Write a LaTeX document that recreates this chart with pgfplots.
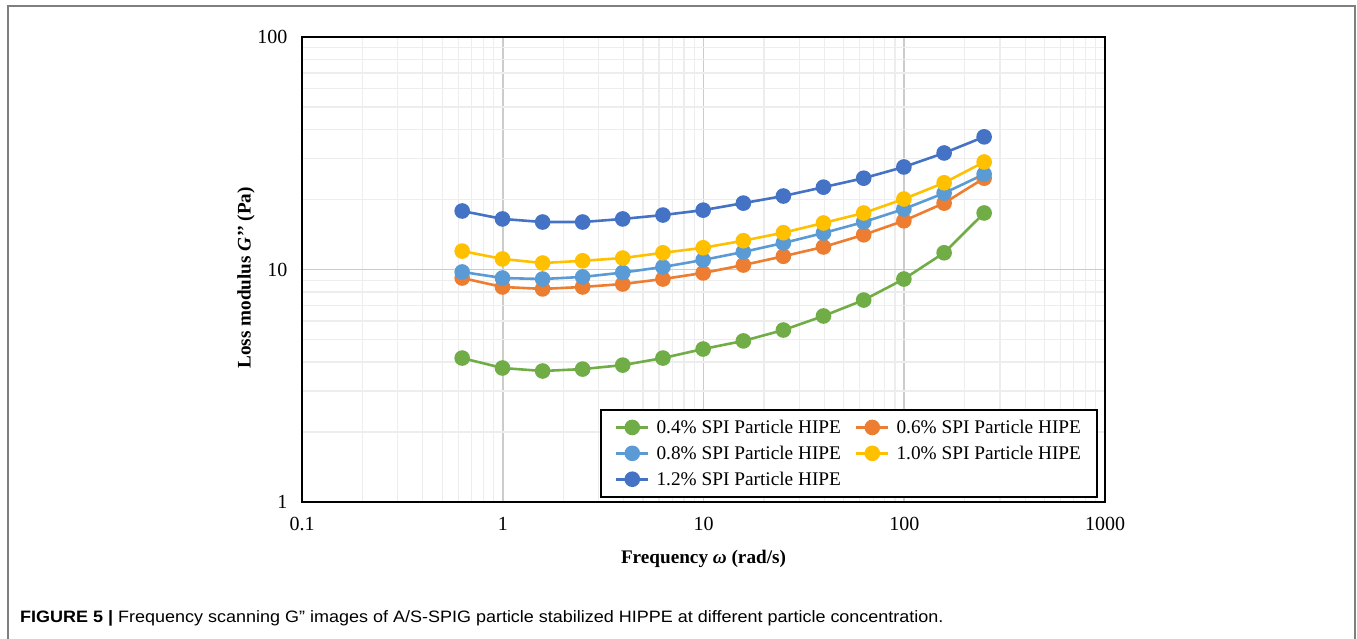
\documentclass[border=0pt]{standalone}
\usepackage{fontspec}
\setmainfont{Liberation Serif}
\newfontfamily\capfont{Liberation Sans}
\usepackage{pgfplots}
\pgfplotsset{compat=1.18}

\definecolor{cgreen}{HTML}{70AD47}
\definecolor{corange}{HTML}{ED7D31}
\definecolor{clblue}{HTML}{5B9BD5}
\definecolor{cyellow}{HTML}{FFC000}
\definecolor{cblue}{HTML}{4472C4}
\definecolor{framegray}{HTML}{7F7F7F}

% omega (rad/s) and loss modulus G'' (Pa)
\pgfplotstableread{
w      g04   g06   g08   g10   g12
0.628  4.16  9.19  9.76  12.0  17.85
0.997  3.77  8.41  9.19  11.1  16.5
1.58   3.66  8.25  9.10  10.66 16.0
2.50   3.73  8.41  9.29  10.9  16.0
3.96   3.88  8.66  9.70  11.2  16.5
6.28   4.16  9.10  10.25 11.8  17.15
9.96   4.55  9.66  10.99 12.4  18.0
15.8   4.93  10.45 11.9  13.3  19.3
25.0   5.49  11.4  13.0  14.4  20.7
39.6   6.31  12.5  14.35 15.85 22.6
62.8   7.39  14.1  16.0  17.5  24.7
99.6   9.10  16.2  18.2  20.1  27.6
158    11.8  19.3  21.3  23.6  31.7
250    17.5  24.7  25.7  29.0  37.2
}\gdata

\begin{document}
\begin{tikzpicture}
\path[use as bounding box] (0pt,0pt) rectangle (1357pt,639pt);
% figure frame
\draw[framegray, line width=2pt] (7.5pt,-2pt) -- (7.5pt,633pt) -- (1355pt,633pt) -- (1355pt,-2pt);

\begin{axis}[
  at={(302pt,137pt)}, anchor=south west,
  scale only axis, width=803pt, height=465pt,
  xmode=log, ymode=log,
  xmin=0.1, xmax=1000, ymin=1, ymax=100,
  axis line style={line width=2.2pt, black},
  xtick={0.1,1,10,100,1000}, xticklabels={0.1,1,10,100,1000},
  ytick={1,10,100}, yticklabels={1,10,100},
  minor xtick={0.2,0.3,0.4,0.5,0.6,0.7,0.8,0.9,2,3,4,5,6,7,8,9,20,30,40,50,60,70,80,90,200,300,400,500,600,700,800,900},
  minor ytick={2,3,4,5,6,7,8,9,20,30,40,50,60,70,80,90},
  grid=both,
  major grid style={line width=1.8pt, color=black!20},
  minor grid style={line width=1.2pt, color=black!7},
  major tick length=0pt, minor tick length=0pt,
  tick style={draw=none},
  ticklabel style={font=\fontsize{20}{24}\selectfont},
  /pgf/number format/assume math mode=true,
  xticklabel shift=12pt, yticklabel shift=11pt,
  xlabel={\textbf{Frequency \textit{ω} (rad/s)}},
  ylabel={\textbf{Loss modulus \textit{G’’} (Pa)}},
  label style={font=\fontsize{19.2}{23}\selectfont},
  xlabel style={at={(axis description cs:0.5,-0.123)}, anchor=center},
  ylabel style={at={(axis description cs:-0.0697,0.482)}, anchor=center},
  legend columns=2,
  legend cell align=left,
  legend style={at={(axis description cs:0.3711,0.2)}, anchor=north west,
    draw=black, line width=2pt, fill=white,
    font=\fontsize{19.3}{23}\selectfont,
    inner xsep=14pt, inner ysep=8pt, row sep=7pt,
    /tikz/every odd column/.append style={column sep=5pt},
    /tikz/every even column/.append style={column sep=12pt}},
  legend image code/.code={
    \draw[mark repeat=2, mark phase=2] plot coordinates {(0pt,0pt) (16pt,0pt) (32pt,0pt)};},
  every axis plot/.append style={line width=2.6pt, mark=*, mark size=6.5pt},
]
\addplot[cgreen, mark options={fill=cgreen}] table[x=w, y=g04] {\gdata};
\addlegendentry{0.4\% SPI Particle HIPE}
\addplot[corange, mark options={fill=corange}] table[x=w, y=g06] {\gdata};
\addlegendentry{0.6\% SPI Particle HIPE}
\addplot[clblue, mark options={fill=clblue}] table[x=w, y=g08] {\gdata};
\addlegendentry{0.8\% SPI Particle HIPE}
\addplot[cyellow, mark options={fill=cyellow}] table[x=w, y=g10] {\gdata};
\addlegendentry{1.0\% SPI Particle HIPE}
\addplot[cblue, mark options={fill=cblue}] table[x=w, y=g12] {\gdata};
\addlegendentry{1.2\% SPI Particle HIPE}
\end{axis}

% caption
\node[anchor=base west, inner sep=0pt, xscale=1.09, font=\capfont\fontsize{16.5}{19}\selectfont]
  at (20pt,16pt) {\textbf{FIGURE 5 |} Frequency scanning G” images of A/S-SPIG particle stabilized HIPPE at different particle concentration.};
\end{tikzpicture}
\end{document}
